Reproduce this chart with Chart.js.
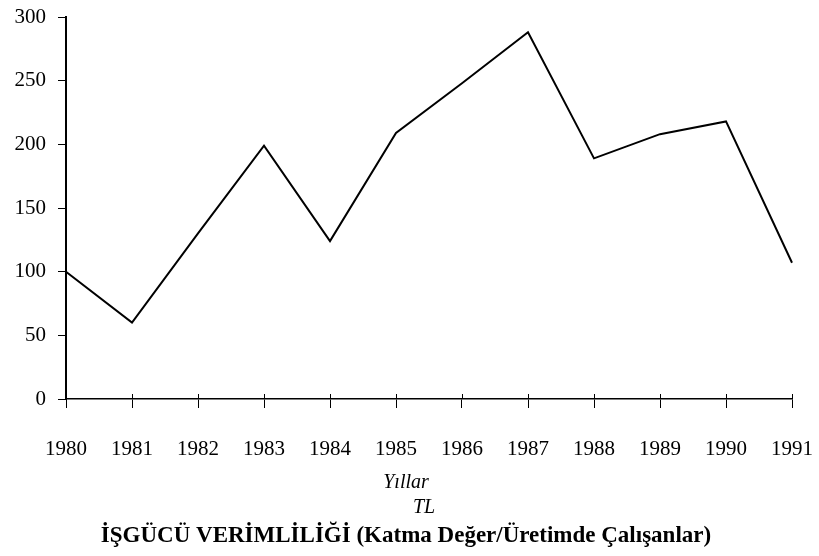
<!DOCTYPE html>
<html>
<head>
<meta charset="utf-8">
<script src="https://cdn.jsdelivr.net/npm/chart.js@4/dist/chart.umd.min.js"></script>
<style>
  html, body { margin: 0; padding: 0; background: #ffffff; }
  #wrap { width: 819px; height: 556px; position: relative; }
</style>
</head>
<body>
<div id="wrap"><canvas id="c" width="819" height="556"></canvas></div>
<script>
const years = ['1980','1981','1982','1983','1984','1985','1986','1987','1988','1989','1990','1991'];
const productivity = [100, 60, 130, 199, 124, 209, 248, 288, 189, 208, 218, 107];
const yTicks = [0, 50, 100, 150, 200, 250, 300];
const xAxisTitle = 'Yıllar';
const unitLabel = 'TL';
const chartTitle = 'İŞGÜCÜ VERİMLİLİĞİ (Katma Değer/Üretimde Çalışanlar)';

const FONT = '"Liberation Serif", "Times New Roman", serif';

const bottomText = {
  id: 'bottomText',
  afterDraw(chart) {
    const ctx = chart.ctx;
    ctx.save();
    ctx.fillStyle = '#000';
    ctx.textAlign = 'center';
    ctx.textBaseline = 'alphabetic';
    ctx.font = 'italic 20px ' + FONT;
    ctx.fillText(xAxisTitle, 406, 488);
    ctx.font = 'italic 20px ' + FONT;
    ctx.fillText(unitLabel, 424, 513);
    ctx.font = 'bold 23px ' + FONT;
    ctx.fillText(chartTitle, 406, 542);
    // small upward part of the x tick marks (crossing the axis)
    const xs = chart.scales.x;
    const yb = chart.chartArea.bottom;
    ctx.strokeStyle = '#000';
    ctx.lineWidth = 1;
    for (let i = 1; i < years.length; i++) {
      const px = Math.round(xs.getPixelForTick(i)) + 0.5;
      ctx.beginPath();
      ctx.moveTo(px, yb - 5);
      ctx.lineTo(px, yb);
      ctx.stroke();
    }
    ctx.restore();
  }
};

new Chart(document.getElementById('c'), {
  type: 'line',
  data: {
    labels: years,
    datasets: [{
      data: productivity,
      borderColor: '#000',
      borderWidth: 2,
      pointRadius: 0,
      tension: 0,
      fill: false
    }]
  },
  options: {
    responsive: false,
    animation: false,
    devicePixelRatio: 1,
    layout: { padding: { left: 0, top: 17, right: 27, bottom: 0 } },
    plugins: {
      legend: { display: false },
      tooltip: { enabled: false },
      title: { display: false }
    },
    scales: {
      x: {
        type: 'category',
        offset: false,
        grid: { display: true, drawOnChartArea: false, drawTicks: true, tickLength: 9, color: '#000', lineWidth: 1 },
        border: { display: true, color: '#000', width: 1.5 },
        ticks: {
          color: '#000',
          font: { family: FONT, size: 21 },
          padding: 29,
          maxRotation: 0,
          autoSkip: false
        },
        afterFit(scale) { scale.height = 157; scale.paddingLeft = 0; scale.paddingRight = 0; }
      },
      y: {
        min: 0,
        max: 300,
        afterBuildTicks(scale) { scale.ticks = yTicks.map(v => ({ value: v })); },
        grid: { display: true, drawOnChartArea: false, drawTicks: true, tickLength: 8, color: '#000', lineWidth: 1 },
        border: { display: true, color: '#000', width: 2 },
        ticks: {
          color: '#000',
          font: { family: FONT, size: 21 },
          padding: 12
        },
        afterFit(scale) { scale.width = 66; scale.paddingTop = 0; scale.paddingBottom = 0; }
      }
    }
  },
  plugins: [bottomText]
});
</script>
</body>
</html>
